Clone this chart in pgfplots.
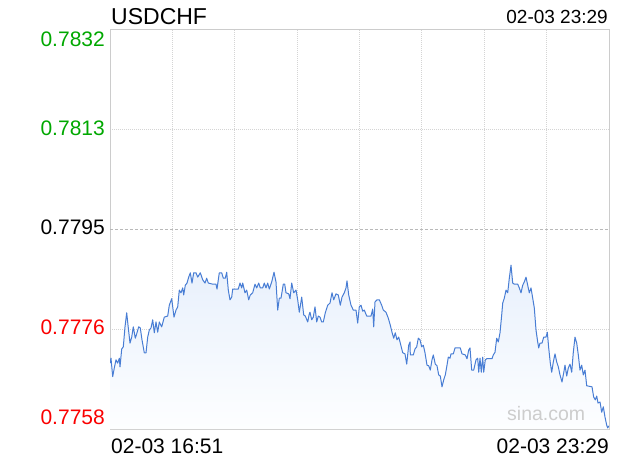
\documentclass[border=0pt]{standalone}
\usepackage{pgfplots}
\pgfplotsset{compat=1.18}
\usepackage{pgfplotstable}
\usepackage{fontspec}
\setmainfont{Liberation Sans}
\definecolor{sinagreen}{RGB}{0,168,0}
\definecolor{sinared}{RGB}{250,0,0}
\definecolor{sinaline}{RGB}{72,125,212}
\definecolor{sinagrid}{RGB}{212,212,212}
\definecolor{sinaborder}{RGB}{204,204,204}
\definecolor{sinafill}{RGB}{232,240,252}
\definecolor{sinafillb}{RGB}{253,254,255}
\definecolor{sinamark}{RGB}{205,205,205}

\pgfplotstableread{
t price
0 0.77702
1 0.77711
2.7 0.77677
4.3 0.77693
6 0.77708
7.7 0.77702
9.3 0.77711
10 0.77695
11.7 0.77728
13.3 0.77732
15 0.77769
16.7 0.77795
18.3 0.77767
20 0.77739
21.7 0.77750
23.3 0.77769
25.3 0.77748
27 0.77758
28.7 0.77769
30.3 0.77767
32 0.77745
34.3 0.77721
36 0.77721
37.7 0.77750
39.3 0.77763
41 0.77767
42.7 0.77782
44.3 0.77758
46 0.77778
47.7 0.77759
49.3 0.77778
51.7 0.77769
54.3 0.77787
57.7 0.77789
59.3 0.77809
61.7 0.77821
64 0.77787
66 0.77800
67.7 0.77806
69.3 0.77837
71 0.77832
72.7 0.77841
73.7 0.77828
75.3 0.77846
77 0.77850
78.7 0.77861
80.3 0.77869
82 0.77850
83.7 0.77869
86 0.77869
87.7 0.77861
90.3 0.77869
92.7 0.77856
95 0.77850
96.7 0.77859
98.3 0.77850
102.7 0.77848
106 0.77848
107 0.77839
109.3 0.77869
111.7 0.77869
113.3 0.77859
115.3 0.77859
116.7 0.77870
118.3 0.77837
120 0.77819
121.7 0.77824
122.7 0.77839
128.3 0.77839
130 0.77850
131.7 0.77841
132.7 0.77850
135 0.77832
136.7 0.77837
138.7 0.77819
140.3 0.77828
142.7 0.77832
145 0.77848
146.7 0.77841
148.7 0.77850
150.3 0.77841
152.7 0.77841
154.3 0.77850
156 0.77841
157.7 0.77850
159.3 0.77839
161.7 0.77852
164 0.77870
166 0.77852
167.7 0.77800
169.3 0.77822
171 0.77822
173.3 0.77848
174.7 0.77848
176 0.77832
178.7 0.77830
180 0.77821
181.7 0.77850
183.7 0.77832
186 0.77837
187.7 0.77819
189.3 0.77796
191.7 0.77824
193.7 0.77791
195.3 0.77789
197.7 0.77778
199.3 0.77793
200 0.77796
201.7 0.77782
203.3 0.77787
205 0.77806
206.7 0.77778
208.3 0.77789
210 0.77787
211.7 0.77778
213.3 0.77778
215.3 0.77795
217.7 0.77809
220 0.77813
222 0.77832
223.7 0.77819
226 0.77830
228.3 0.77828
230.3 0.77809
232 0.77824
234.3 0.77832
236 0.77841
237 0.77854
238.7 0.77828
241 0.77809
243.3 0.77800
246 0.77800
247.7 0.77776
249.3 0.77806
251 0.77809
252.7 0.77798
254.3 0.77800
256.7 0.77789
261 0.77789
262.7 0.77802
263.7 0.77769
265 0.77815
267 0.77819
269.3 0.77819
271.7 0.77809
273.3 0.77800
276 0.77796
278.3 0.77785
280.3 0.77772
282 0.77759
283.7 0.77748
285.3 0.77758
287 0.77745
288.7 0.77750
290.3 0.77739
292.7 0.77721
295 0.77719
296.7 0.77700
298.7 0.77735
300 0.77741
300.3 0.77717
303.3 0.77717
305 0.77728
306.7 0.77732
308.3 0.77748
310 0.77745
311.7 0.77732
313.3 0.77735
315 0.77721
317 0.77698
318.7 0.77697
320.3 0.77689
322 0.77708
323.3 0.77717
325.3 0.77700
327 0.77697
328.7 0.77680
330.3 0.77678
332 0.77658
333.7 0.77671
335.3 0.77680
337 0.77698
338.3 0.77713
340 0.77711
341 0.77719
343.3 0.77719
345 0.77730
350.3 0.77730
352 0.77719
355.3 0.77717
357 0.77710
358.7 0.77726
360 0.77730
361.7 0.77689
363.7 0.77689
366 0.77708
367.7 0.77711
368.7 0.77685
370 0.77711
371.3 0.77685
372.7 0.77713
373.7 0.77685
375.3 0.77708
376.7 0.77710
382 0.77710
383.3 0.77717
385 0.77722
386.7 0.77748
388.3 0.77741
390 0.77758
391.7 0.77791
392.7 0.77813
394.3 0.77822
396 0.77837
397.7 0.77832
399.3 0.77859
401 0.77883
402.7 0.77850
404.3 0.77848
407.7 0.77848
409.3 0.77841
411 0.77832
412.7 0.77846
414.3 0.77852
416 0.77861
417.7 0.77846
419.3 0.77832
421 0.77841
422.7 0.77822
424.3 0.77804
426 0.77763
427.7 0.77741
428.7 0.77730
430 0.77739
432 0.77739
433.7 0.77750
436 0.77750
437.3 0.77759
438.7 0.77730
440.3 0.77702
441.7 0.77685
443.3 0.77704
445 0.77719
446.7 0.77704
448.3 0.77695
450 0.77680
452 0.77667
453.7 0.77684
455 0.77698
456.7 0.77678
458.3 0.77693
460 0.77700
461.7 0.77685
463.3 0.77722
465 0.77750
466.7 0.77739
468.3 0.77717
470 0.77689
471.7 0.77698
473.3 0.77680
475 0.77689
476.7 0.77660
482 0.77658
483.7 0.77639
485.3 0.77634
486.7 0.77641
488 0.77628
490 0.77630
491.7 0.77611
493.3 0.77621
495 0.77602
496.7 0.77587
497.7 0.77582
499 0.77586
}\pricedata

\begin{document}
\begin{tikzpicture}[x=1pt,y=1pt]
\path[use as bounding box] (0,0) rectangle (620,460);
\begin{axis}[
  at={(110pt,31pt)}, anchor=south west,
  width=499pt, height=400pt, scale only axis,
  xmin=0, xmax=499, ymin=0.7758, ymax=0.7832,
  xtick={62.375,124.75,187.125,249.5,311.875,374.25,436.625},
  ytick={0.77765,0.78135},
  extra y ticks={0.7795},
  extra y tick style={grid style={color=gray!55, dash pattern=on 3pt off 2pt, line width=0.8pt}},
  xticklabels={}, yticklabels={}, extra y tick labels={},
  major tick length=0pt,
  grid=major,
  grid style={color=sinagrid, dash pattern=on 1pt off 1pt, line width=0.8pt},
  axis line style={color=sinaborder, line width=1pt},
  clip=true,
]
\addplot[draw=none, top color=sinafill, bottom color=sinafillb] table[x=t, y=price] {\pricedata} -- (axis cs:499,0.7758) -- (axis cs:0,0.7758) -- cycle;
\addplot[color=sinaline, line width=1pt, mark=none, line join=round] table[x=t, y=price] {\pricedata};
\end{axis}
% titles and labels
\node[anchor=base west, inner sep=0pt, font=\fontsize{23}{27}\selectfont] at (111,435) {USDCHF};
\node[anchor=base east, inner sep=0pt, font=\fontsize{19}{23}\selectfont] at (608,436) {02-03 23:29};
\node[anchor=base east, inner sep=0pt, text=sinagreen, font=\fontsize{21}{25}\selectfont] at (105,413.5) {0.7832};
\node[anchor=base east, inner sep=0pt, text=sinagreen, font=\fontsize{21}{25}\selectfont] at (105,324) {0.7813};
\node[anchor=base east, inner sep=0pt, text=black, font=\fontsize{21}{25}\selectfont] at (105,225) {0.7795};
\node[anchor=base east, inner sep=0pt, text=sinared, font=\fontsize{21}{25}\selectfont] at (105,125) {0.7776};
\node[anchor=base east, inner sep=0pt, text=sinared, font=\fontsize{21}{25}\selectfont] at (105,36) {0.7758};
\node[anchor=base west, inner sep=0pt, font=\fontsize{21}{25}\selectfont] at (111,7) {02-03 16:51};
\node[anchor=base east, inner sep=0pt, font=\fontsize{21}{25}\selectfont] at (609,7) {02-03 23:29};
\node[anchor=base west, inner sep=0pt, text=sinamark, font=\fontsize{19.5}{23}\selectfont] at (507,40) {sina.com};
\end{tikzpicture}
\end{document}
